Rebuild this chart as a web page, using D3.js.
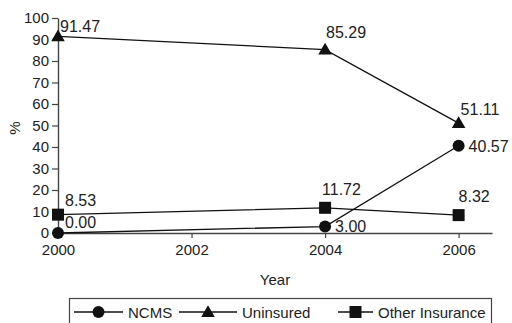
<!DOCTYPE html>
<html><head><meta charset="utf-8">
<script src="https://cdn.jsdelivr.net/npm/d3@7"></script>
<style>
html,body{margin:0;padding:0;background:#fff;}
svg{display:block;font-family:"Liberation Sans",Arial,Helvetica,sans-serif;}
</style></head>
<body><svg id="c" width="512" height="323"></svg>
<script>
const years = [2000, 2004, 2006];
const ncms = [0.00, 3.00, 40.57];
const uninsured = [91.47, 85.29, 51.11];
const otherInsurance = [8.53, 11.72, 8.32];
const seriesNames = ["NCMS", "Uninsured", "Other Insurance"];
const yTicks = [0,10,20,30,40,50,60,70,80,90,100];
const xTicks = [2000, 2002, 2004, 2006];

// label placement offsets (dx, dy) per series/point — styling only
const labelOffsets = {
  "NCMS": [[7,-5],[10,5],[10,6]],
  "Uninsured": [[2,-4],[1,-12],[2,-8]],
  "Other Insurance": [[7,-9],[-3,-13],[0,-13]]
};
const markerType = {"NCMS":"circle","Uninsured":"triangle","Other Insurance":"square"};

const svg = d3.select("#c");
const x = d3.scaleLinear().domain([2000, 2006.5]).range([58, 492]);
const y = d3.scaleLinear().domain([0, 100]).range([233, 18]);
const ink = "#222";

// axes
const xAxis = svg.append("g").attr("transform","translate(0,233)")
  .call(d3.axisBottom(x).tickValues(xTicks).tickFormat(d3.format("d")).tickSize(5).tickPadding(6).tickSizeOuter(0));
const yAxis = svg.append("g").attr("transform","translate(58,0)")
  .call(d3.axisLeft(y).tickValues(yTicks).tickSize(6).tickPadding(3).tickSizeOuter(0));
[xAxis,yAxis].forEach(a=>{
  a.select(".domain").attr("stroke","#444").attr("stroke-width",1.4);
  a.selectAll(".tick line").attr("stroke","#444").attr("stroke-width",1.2);
  a.selectAll(".tick text").attr("fill",ink).attr("font-size",15).attr("font-family","Liberation Sans, Arial, sans-serif");
});

svg.append("text").attr("x",275).attr("y",285).attr("text-anchor","middle")
  .attr("font-size",15).attr("fill",ink).text("Year");
svg.append("text").attr("transform","translate(20,128) rotate(-90)").attr("text-anchor","middle")
  .attr("font-size",15).attr("fill",ink).text("%");

const series = [
  {name:"NCMS", values:ncms},
  {name:"Uninsured", values:uninsured},
  {name:"Other Insurance", values:otherInsurance}
];

function drawMarker(g, type, cx, cy){
  if(type==="circle") g.append("circle").attr("cx",cx).attr("cy",cy).attr("r",6).attr("fill","#111");
  else if(type==="triangle") g.append("path").attr("d",d3.symbol().type(d3.symbolTriangle).size(80)()).attr("transform",`translate(${cx},${cy+1})`).attr("fill","#111");
  else g.append("rect").attr("x",cx-6).attr("y",cy-6).attr("width",12).attr("height",12).attr("fill","#111");
}

const line = d3.line().x((d,i)=>x(years[i])).y(d=>y(d));
series.forEach(s=>{
  svg.append("path").attr("d",line(s.values)).attr("fill","none").attr("stroke","#111").attr("stroke-width",1.3);
});
series.forEach(s=>{
  const g = svg.append("g");
  s.values.forEach((v,i)=>{
    drawMarker(g, markerType[s.name], x(years[i]), y(v));
    const off = labelOffsets[s.name][i];
    g.append("text").attr("x",x(years[i])+off[0]).attr("y",y(v)+off[1])
      .attr("font-size",16).attr("fill",ink).text(v.toFixed(2));
  });
});

// legend
const lg = svg.append("g");
lg.append("rect").attr("x",69.5).attr("y",298.5).attr("width",422).attr("height",30)
  .attr("fill","none").attr("stroke","#444").attr("stroke-width",1.2);
const legendX = [74, 179, 338];
seriesNames.forEach((n,i)=>{
  const x0 = legendX[i], cy = 312, w = i===2 ? 35 : (i===1?58:49);
  lg.append("line").attr("x1",x0).attr("x2",x0+w).attr("y1",cy).attr("y2",cy).attr("stroke","#111").attr("stroke-width",1.3);
  drawMarker(lg, markerType[n], x0+w/2, cy);
  lg.append("text").attr("x",x0+w+5).attr("y",cy+5.5).attr("font-size",15).attr("fill",ink).text(n);
});
</script></body></html>
